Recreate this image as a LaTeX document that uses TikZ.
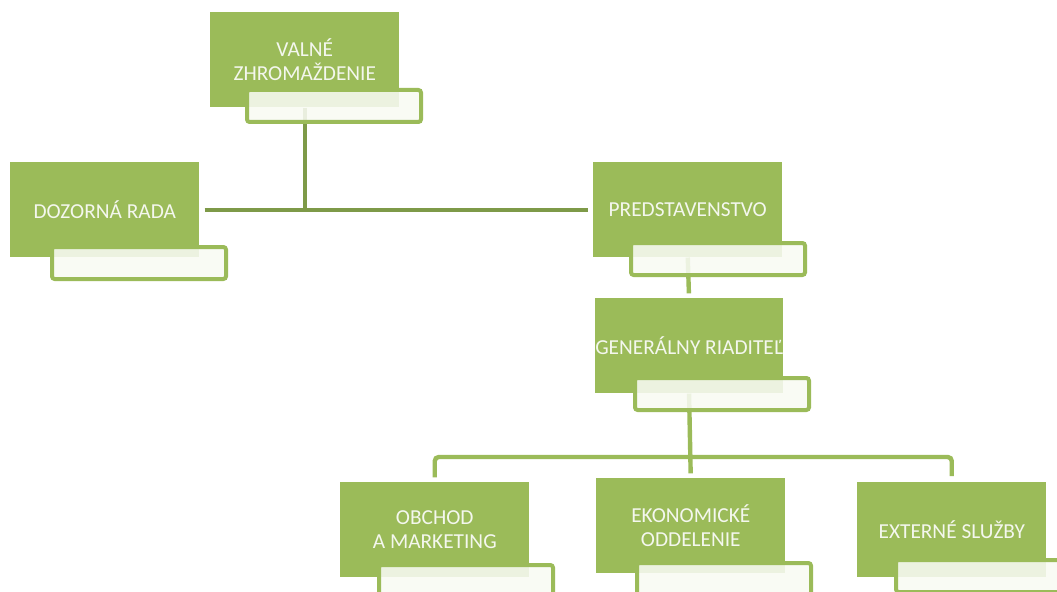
\documentclass[tikz,border=0pt]{standalone}
\usepackage{fontspec}
\setmainfont{Carlito}
\usetikzlibrary{backgrounds}
\definecolor{olive}{HTML}{9BBB59}
\definecolor{darkolive}{HTML}{7E9A48}
\definecolor{paper}{HTML}{F8FAF3}
\definecolor{txt}{HTML}{F4F7EE}
\tikzset{
  gbox/.style={rectangle, fill=olive, anchor=north west, inner sep=0pt,
    minimum width=141.75pt, minimum height=71.25pt, align=center,
    text=txt, font=\fontsize{16pt}{18pt}\selectfont},
  wbox/.style={rectangle, draw=olive, line width=3pt, rounded corners=2pt,
    fill=paper, fill opacity=0.88, anchor=north west, inner sep=0pt,
    minimum width=130.5pt, minimum height=24pt},
  topconn/.style={draw=darkolive, line width=3.3pt},
  lowconn/.style={draw=olive, line width=3.3pt, rounded corners=3pt}
}
\begin{document}
\begin{tikzpicture}[x=0.75pt,y=-0.75pt]
\useasboundingbox (0,0) rectangle (1057,592);
% green boxes
\node[gbox] (vz) at (210,12) {VALNÉ\\ZHROMAŽDENIE};
\node[gbox] (dr) at (10,162) {DOZORNÁ RADA};
\node[gbox] (ps) at (593,162) {PREDSTAVENSTVO};
\node[gbox, minimum width=140.25pt] (gr) at (595,298) {GENERÁLNY RIADITEĽ};
\node[gbox] (ob) at (340,482) {OBCHOD\\A MARKETING};
\node[gbox] (ek) at (596,478) {EKONOMICKÉ\\ODDELENIE};
\node[gbox] (ex) at (857,482) {EXTERNÉ SLUŽBY};
% label boxes
\node[wbox] (vzw) at (245,88) {};
\node[wbox] (drw) at (50,245) {};
\node[wbox] (psw) at (629,241) {};
\node[wbox] (grw) at (633,376) {};
\node[wbox] (obw) at (377,563) {};
\node[wbox] (ekw) at (635,561) {};
\node[wbox] (exw) at (894,558) {};
% connectors
\coordinate (hub) at (vz.south |- dr.east);
\coordinate (bus) at (688,457);
\begin{scope}[on background layer]
\draw[topconn] (vz.south) -- (hub);
\draw[topconn, shorten <=5pt*0.75, shorten >=4pt] (dr.east) -- (ps.west);
\draw[lowconn, shorten >=3.5pt] (ps.south) -- (gr.north);
\draw[lowconn, shorten >=3.5pt] (gr.south) -- (ek.north);
\draw[lowconn, shorten <=3.5pt, shorten >=4.5pt] (ob.north) |- (bus) -| (ex.north);
\end{scope}
\end{tikzpicture}
\end{document}
